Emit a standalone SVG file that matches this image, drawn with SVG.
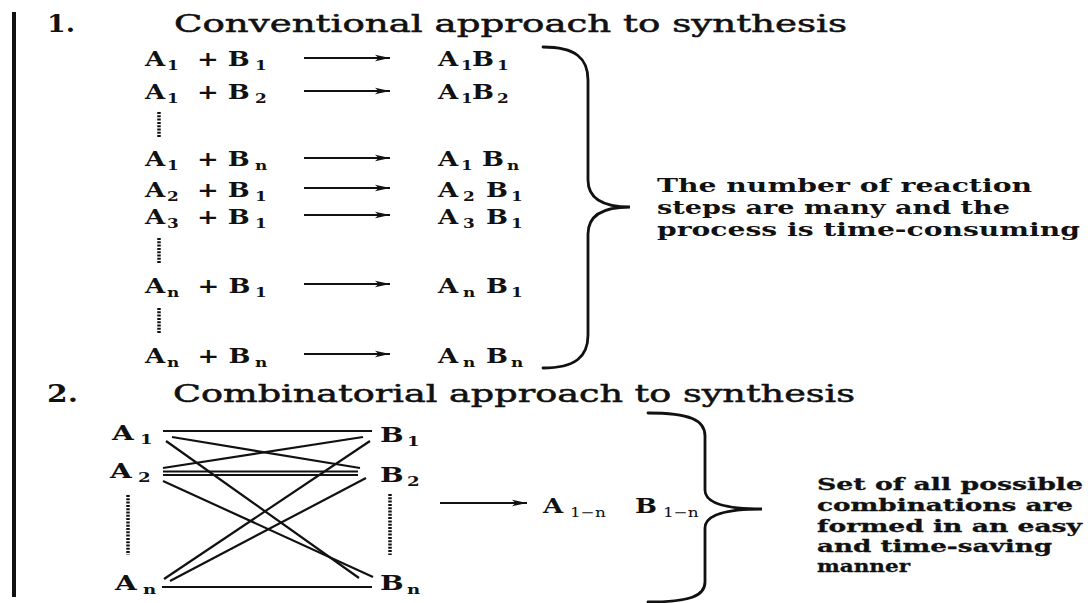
<svg xmlns="http://www.w3.org/2000/svg" width="1088" height="603" viewBox="0 0 1088 603">
<style>
.t{font-family:"DejaVu Serif","Liberation Serif",serif;fill:#111}
.h{font-size:24px;stroke:#111;stroke-width:0.5}
.b{font-weight:bold;stroke:none}
.r{font-size:20px;font-weight:bold}
.s{font-size:13px}
.m{font-size:18.5px;font-weight:bold}
.m2{font-size:17.5px;font-weight:bold;stroke:#111;stroke-width:0.3}
.d{stroke:#111;stroke-width:3.5;stroke-dasharray:2 1.3;fill:none}
.ln{stroke:#111;stroke-width:2.2;fill:none}
.br{fill:none;stroke:#111;stroke-width:2.8;stroke-linecap:round}
.ar{stroke:#111;stroke-width:1.8;fill:none;marker-end:url(#ah)}
</style>
<defs>
<marker id="ah" markerUnits="userSpaceOnUse" markerWidth="16" markerHeight="8" refX="15" refY="4" orient="auto">
<path d="M0,0.8 L15,4 L0,7.2 L3.5,4 Z" fill="#111"/>
</marker>
</defs>
<rect width="1088" height="603" fill="#fff"/>
<rect x="12" y="12" width="4" height="585" fill="#111"/>

<g id="section1-title">
<text class="t h b" x="47" y="32" textLength="28" lengthAdjust="spacingAndGlyphs">1.</text>
<text class="t h" x="174" y="32" textLength="673" lengthAdjust="spacingAndGlyphs">Conventional approach to synthesis</text>
</g>

<g id="reactants1">
<text class="t r" transform="translate(145,66) scale(1.3,1)">A<tspan class="s" x="16.9" dy="4">1</tspan><tspan x="33" dy="-4"> +</tspan><tspan x="56.8"> B</tspan><tspan class="s" x="84.6" dy="4">1</tspan></text>
<text class="t r" transform="translate(145,99) scale(1.3,1)">A<tspan class="s" x="16.9" dy="4">1</tspan><tspan x="33" dy="-4"> +</tspan><tspan x="56.8"> B</tspan><tspan class="s" x="84.6" dy="4">2</tspan></text>
<text class="t r" transform="translate(145,166) scale(1.3,1)">A<tspan class="s" x="16.9" dy="4">1</tspan><tspan x="33" dy="-4"> +</tspan><tspan x="56.8"> B</tspan><tspan class="s" x="84.6" dy="4">n</tspan></text>
<text class="t r" transform="translate(145,197) scale(1.3,1)">A<tspan class="s" x="16.9" dy="4">2</tspan><tspan x="33" dy="-4"> +</tspan><tspan x="56.8"> B</tspan><tspan class="s" x="84.6" dy="4">1</tspan></text>
<text class="t r" transform="translate(145,224) scale(1.3,1)">A<tspan class="s" x="16.9" dy="4">3</tspan><tspan x="33" dy="-4"> +</tspan><tspan x="56.8"> B</tspan><tspan class="s" x="84.6" dy="4">1</tspan></text>
<text class="t r" transform="translate(145,293) scale(1.3,1)">A<tspan class="s" x="16.9" dy="4">n</tspan><tspan x="33.5" dy="-4"> +</tspan><tspan x="57.3"> B</tspan><tspan class="s" x="84.6" dy="4">1</tspan></text>
<text class="t r" transform="translate(145,363) scale(1.3,1)">A<tspan class="s" x="16.9" dy="4">n</tspan><tspan x="33.5" dy="-4"> +</tspan><tspan x="57.3"> B</tspan><tspan class="s" x="84.6" dy="4">n</tspan></text>
<line class="d" x1="159" y1="112" x2="159" y2="138"/>
<line class="d" x1="159" y1="238" x2="159" y2="263"/>
<line class="d" x1="159" y1="308" x2="159" y2="334"/>
</g>

<g id="products1">
<text class="t r" transform="translate(438,66) scale(1.3,1)">A<tspan class="s" x="17.7" dy="4">1</tspan><tspan x="26.2" dy="-4">B</tspan><tspan class="s" x="45.4" dy="4">1</tspan></text>
<text class="t r" transform="translate(438,99) scale(1.3,1)">A<tspan class="s" x="17.7" dy="4">1</tspan><tspan x="26.2" dy="-4">B</tspan><tspan class="s" x="45.4" dy="4">2</tspan></text>
<text class="t r" transform="translate(438,166) scale(1.3,1)">A<tspan class="s" x="17.7" dy="4">1</tspan><tspan x="26.8" dy="-4"> B</tspan><tspan class="s" x="53" dy="4">n</tspan></text>
<text class="t r" transform="translate(438,197) scale(1.3,1)">A<tspan class="s" x="19.2" dy="4">2</tspan><tspan x="29.9" dy="-4"> B</tspan><tspan class="s" x="56.2" dy="4">1</tspan></text>
<text class="t r" transform="translate(438,224) scale(1.3,1)">A<tspan class="s" x="19.2" dy="4">3</tspan><tspan x="29.9" dy="-4"> B</tspan><tspan class="s" x="56.2" dy="4">1</tspan></text>
<text class="t r" transform="translate(438,293) scale(1.3,1)">A<tspan class="s" x="19.2" dy="4">n</tspan><tspan x="29.9" dy="-4"> B</tspan><tspan class="s" x="56.2" dy="4">1</tspan></text>
<text class="t r" transform="translate(438,363) scale(1.3,1)">A<tspan class="s" x="19.2" dy="4">n</tspan><tspan x="29.9" dy="-4"> B</tspan><tspan class="s" x="56.2" dy="4">n</tspan></text>
</g>

<g id="brace1">
<path class="br" d="M543,47 C575,47 588,58 588,80 L588,180 C588,198 602,207 630,207 C602,207 588,216 588,234 L588,335 C588,357 575,368 543,368"/>
</g>

<g id="note1">
<text class="t m" x="657" y="192" textLength="375" lengthAdjust="spacingAndGlyphs">The number of reaction</text>
<text class="t m" x="657" y="214" textLength="353" lengthAdjust="spacingAndGlyphs">steps are many and the</text>
<text class="t m" x="657" y="236" textLength="423" lengthAdjust="spacingAndGlyphs">process is time-consuming</text>
</g>

<g id="section2-title">
<text class="t h b" x="47" y="402" textLength="31" lengthAdjust="spacingAndGlyphs">2.</text>
<text class="t h" x="173" y="402" textLength="682" lengthAdjust="spacingAndGlyphs">Combinatorial approach to synthesis</text>
</g>

<g id="node-A1"><text class="t r" transform="translate(112,440) scale(1.4,1)">A<tspan class="s" x="20" dy="4">1</tspan></text></g>
<g id="node-A2"><text class="t r" transform="translate(110,478) scale(1.4,1)">A<tspan class="s" x="20" dy="4">2</tspan></text></g>
<g id="node-An"><text class="t r" transform="translate(115,590) scale(1.4,1)">A<tspan class="s" x="20" dy="4">n</tspan></text></g>
<g id="node-B1"><text class="t r" transform="translate(380,442) scale(1.4,1)">B<tspan class="s" x="19.3" dy="4">1</tspan></text></g>
<g id="node-B2"><text class="t r" transform="translate(380,482) scale(1.4,1)">B<tspan class="s" x="19.3" dy="4">2</tspan></text></g>
<g id="node-Bn"><text class="t r" transform="translate(380,590) scale(1.4,1)">B<tspan class="s" x="19.3" dy="4">n</tspan></text></g>
<g id="dots2">
<line class="d" x1="128" y1="495" x2="128" y2="555"/>
<line class="d" x1="390" y1="494" x2="390" y2="555"/>
</g>

<g id="product2">
<text class="t r" transform="translate(543,513) scale(1.3,1)">A<tspan class="s" x="20.8" dy="4" font-weight="normal">1−n</tspan><tspan x="63.8" dy="-4"> B</tspan><tspan class="s" x="92.3" dy="4" font-weight="normal">1−n</tspan></text>
</g>

<g id="brace2">
<path class="br" d="M648,413 C690,413 705,420 705,436 L705,490 C705,502 722,509 762,509 C722,509 705,516 705,528 L705,582 C705,596 690,602 648,602"/>
</g>

<g id="note2">
<text class="t m2" x="817" y="490" textLength="266" lengthAdjust="spacingAndGlyphs">Set of all possible</text>
<text class="t m2" x="817" y="511" textLength="256" lengthAdjust="spacingAndGlyphs">combinations are</text>
<text class="t m2" x="817" y="532" textLength="265" lengthAdjust="spacingAndGlyphs">formed in an easy</text>
<text class="t m2" x="817" y="552" textLength="235" lengthAdjust="spacingAndGlyphs">and time-saving</text>
<text class="t m2" x="817" y="572" textLength="93" lengthAdjust="spacingAndGlyphs">manner</text>
</g>

<g id="connectors">
<line class="ar" x1="304" y1="58" x2="390" y2="58"/>
<line class="ar" x1="304" y1="91" x2="390" y2="91"/>
<line class="ar" x1="304" y1="158" x2="390" y2="158"/>
<line class="ar" x1="304" y1="188" x2="390" y2="188"/>
<line class="ar" x1="304" y1="215" x2="390" y2="215"/>
<line class="ar" x1="304" y1="284" x2="390" y2="284"/>
<line class="ar" x1="304" y1="354" x2="390" y2="354"/>
<line class="ar" x1="440" y1="503" x2="527" y2="503"/>
<line class="ln" x1="163" y1="431" x2="372" y2="431"/>
<line class="ln" x1="172" y1="437" x2="360" y2="468"/>
<line class="ln" x1="166" y1="441" x2="359" y2="578"/>
<line class="ln" x1="163" y1="468" x2="363" y2="437"/>
<line class="ln" x1="163" y1="471.5" x2="358" y2="471.5"/>
<line class="ln" x1="163" y1="475" x2="358" y2="475"/>
<line class="ln" x1="163" y1="481" x2="373" y2="577"/>
<line class="ln" x1="164" y1="579" x2="370" y2="441"/>
<line class="ln" x1="170" y1="581" x2="366" y2="478"/>
<line class="ln" x1="162" y1="587" x2="372" y2="587"/>
</g>
</svg>
